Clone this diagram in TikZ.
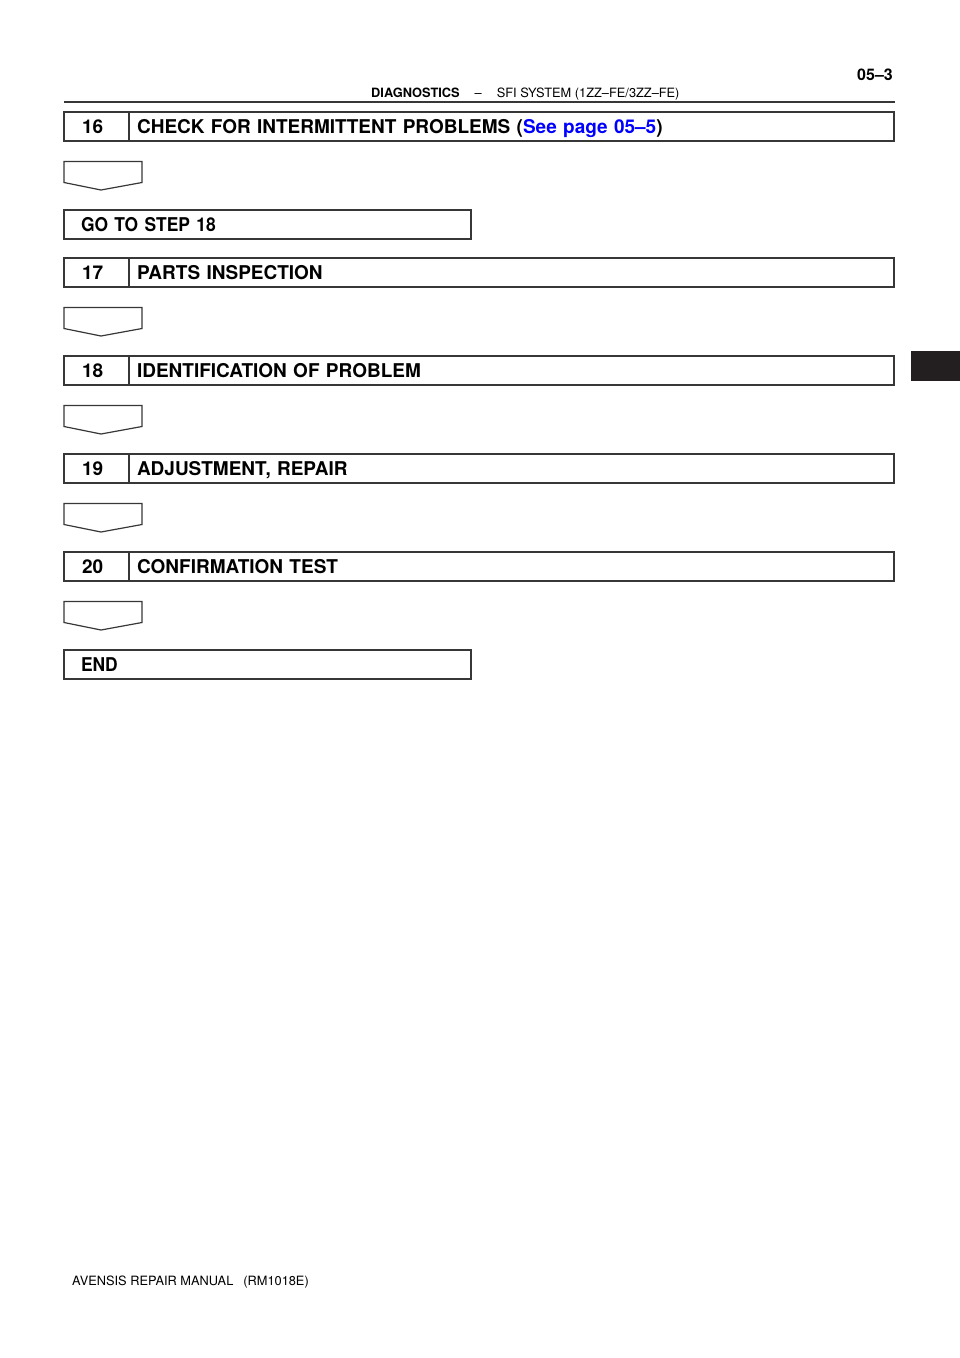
\documentclass[tikz,border=0pt]{standalone}
\usepackage{fontspec}
\setmainfont{TeX Gyre Heros}
\newfontfamily\narrowfont[FakeStretch=0.917]{TeX Gyre Heros}
\usetikzlibrary{positioning}

\definecolor{boxgray}{RGB}{55,55,55}
\definecolor{linkblue}{RGB}{0,0,255}
\definecolor{tabblack}{RGB}{35,31,32}

\begin{document}
\begin{tikzpicture}[x=1pt, y=-1pt,
numbox/.style={draw=boxgray, line width=1.25pt, fill=none, outer sep=0pt, minimum width=65pt, minimum height=29pt, inner xsep=18pt, inner ysep=0pt, text width=29pt, align=left, text height=13.6pt, text depth=0pt, font=\bfseries\fontsize{19}{19}\selectfont},
titlebox/.style={numbox, minimum width=765pt, inner xsep=8pt, text width=749pt},
gobox/.style={numbox, minimum width=407pt, inner xsep=17pt, text width=373pt, font=\narrowfont\bfseries\fontsize{19}{19}\selectfont},
downarrow/.style={draw=boxgray, line width=1.2pt, line join=miter},
]
\useasboundingbox (0,0) rectangle (960,1358);
\node[font=\bfseries\fontsize{16}{16}\selectfont, anchor=base east, inner sep=0pt](pg) at (893,80){05–3};
\node[font=\fontsize{12.8}{12.8}\selectfont, anchor=base west, inner sep=0pt](hd) at (371,97){\textbf{DIAGNOSTICS}\hspace{15pt}–\hspace{15pt}SFI SYSTEM (1ZZ–FE/3ZZ–FE)};
\draw[line width=2pt, boxgray] (64,101.5) -- (895,101.5);
\node[numbox, anchor=north west](n16) at (64,112){16};
\node[titlebox, right=0pt of n16](t16){CHECK FOR INTERMITTENT PROBLEMS (\textcolor{linkblue}{See page 05–5})};
\draw[downarrow] ([yshift=-20.5pt]n16.south west) -- ++(78,0) -- ++(0,21) -- ++(-41,7.5) -- ++(-37,-7.5) -- cycle;
\node[gobox, below=69pt of n16.south west, anchor=north west](g18){GO TO STEP 18};
\node[numbox, below=19pt of g18.south west, anchor=north west](n17){17};
\node[titlebox, right=0pt of n17](t17){PARTS INSPECTION};
\draw[downarrow] ([yshift=-20.5pt]n17.south west) -- ++(78,0) -- ++(0,21) -- ++(-41,7.5) -- ++(-37,-7.5) -- cycle;
\node[numbox, below=69pt of n17.south west, anchor=north west](n18){18};
\node[titlebox, right=0pt of n18](t18){IDENTIFICATION OF PROBLEM};
\draw[downarrow] ([yshift=-20.5pt]n18.south west) -- ++(78,0) -- ++(0,21) -- ++(-41,7.5) -- ++(-37,-7.5) -- cycle;
\node[numbox, below=69pt of n18.south west, anchor=north west](n19){19};
\node[titlebox, right=0pt of n19](t19){ADJUSTMENT, REPAIR};
\draw[downarrow] ([yshift=-20.5pt]n19.south west) -- ++(78,0) -- ++(0,21) -- ++(-41,7.5) -- ++(-37,-7.5) -- cycle;
\node[numbox, below=69pt of n19.south west, anchor=north west](n20){20};
\node[titlebox, right=0pt of n20](t20){CONFIRMATION TEST};
\draw[downarrow] ([yshift=-20.5pt]n20.south west) -- ++(78,0) -- ++(0,21) -- ++(-41,7.5) -- ++(-37,-7.5) -- cycle;
\node[gobox, below=69pt of n20.south west, anchor=north west](fin){END};
\fill[tabblack] (911,351) rectangle (960,381);
\node[font=\fontsize{12.8}{12.8}\selectfont, anchor=base west, inner sep=0pt](ft) at (72,1285){AVENSIS REPAIR MANUAL\hspace{10pt}(RM1018E)};
\end{tikzpicture}
\end{document}
